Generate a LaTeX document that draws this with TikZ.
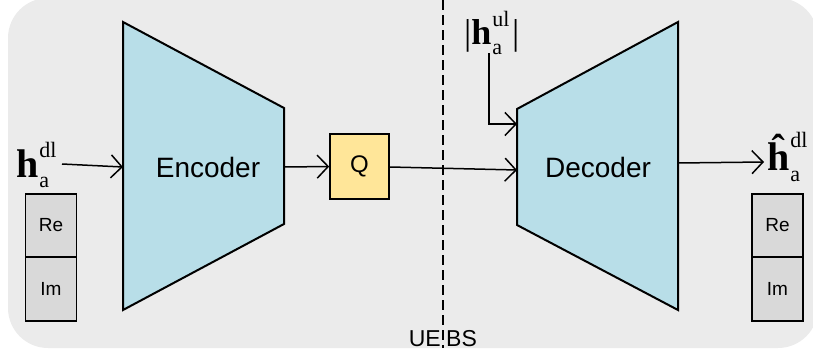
\documentclass[tikz,border=0pt]{standalone}
\usepackage{fontspec}
\setsansfont{Liberation Sans}
\newfontfamily\tnr{Liberation Serif}
\usetikzlibrary{arrows.meta}
\definecolor{bgc}{HTML}{EBEBEB}
\definecolor{blu}{HTML}{B8DEE8}
\definecolor{qyel}{HTML}{FFE699}
\definecolor{cellg}{HTML}{D9D9D9}
\tikzset{
  trap/.style={draw=black, line width=2pt, fill=blu, line join=miter},
  lbl/.style={font=\sffamily\fontsize{28}{30}\selectfont, inner sep=0pt},
  cell/.style={draw=black, line width=1.6pt, fill=cellg, minimum width=51pt, minimum height=63.5pt, inner sep=0pt, font=\sffamily\fontsize{19}{20}\selectfont},
  qbox/.style={draw=black, line width=1.6pt, fill=qyel, minimum width=59pt, minimum height=65pt, inner sep=0pt, font=\sffamily\fontsize{24}{26}\selectfont},
  conn/.style={line width=1.5pt, -{Straight Barb[length=11pt,width=23pt,line width=1.5pt]}},
  math/.style={inner sep=0pt, anchor=base west},
  side/.style={font=\sffamily\fontsize{23}{24}\selectfont, inner sep=0pt},
}
\newcommand{\scr}[1]{\hbox{\fontsize{22}{22}\tnr #1}}
\newcommand{\hlab}[5]{\hbox{\fontsize{#1}{#1}\tnr\bfseries #2}\kern1pt\rlap{\raise#3pt\scr{#4}}\lower#5pt\scr{a}}
\begin{document}
\begin{tikzpicture}[x=1pt,y=-1pt]
\useasboundingbox (0,0) rectangle (813,356);
\fill[bgc, rounded corners=40pt] (8,-2) rectangle (818,348);

% encoder
\coordinate (e1) at (123,22);
\coordinate (e2) at (284,108);
\coordinate (e3) at (284,224);
\coordinate (e4) at (123,310);
\draw[trap] (e1) -- (e2) -- (e3) -- (e4) -- cycle;
\node[lbl] (enc) at (208,167) {Encoder};
\coordinate (encin) at (123,167);
\coordinate (encout) at (284,167);

% decoder
\coordinate (d1) at (517,109);
\coordinate (d2) at (678,22);
\coordinate (d3) at (678,310);
\coordinate (d4) at (517,225);
\draw[trap] (d1) -- (d2) -- (d3) -- (d4) -- cycle;
\node[lbl] (dec) at (598,167) {Decoder};
\coordinate (decin) at (517,170);
\coordinate (decul) at (517,124);
\coordinate (decout) at (678,163);

% Q
\node[qbox] (q) at (359.5,166.5) {Q};

% Re/Im left
\node[cell] (re1) at (51,225.5) {Re};
\node[cell] (im1) at (51,289) {Im};
% Re/Im right
\node[cell] (re2) at (777.5,225.5) {Re};
\node[cell] (im2) at (777.5,289) {Im};

% labels
\node[math] (hin) at (16,177) {\hlab{40}{h}{20}{dl}{10}};
\node[math] (hout) at (767,170) {\hlab{40}{\^h}{23}{dl}{11}};
\node[math] (hul) at (464,44) {\hbox{\fontsize{36}{36}\tnr|}\hlab{36}{h}{18}{ul}{10}\kern10pt\hbox{\fontsize{36}{36}\tnr|}};

% dashed separator
\coordinate (dtop) at (443,0);
\coordinate (dbot) at (443,348);
\draw[line width=1.5pt, dash pattern=on 10pt off 5pt] (dtop) -- (dbot);
\node[side, anchor=base east] (ue) at (441,346) {UE};
\node[side, anchor=base west] (bs) at (446,346) {BS};

% connectors
\coordinate (hinend) at (62,164);
\draw[conn] (hinend) -- (encin);
\draw[conn] (encout) -- (q.west);
\draw[conn] (q.east |- 0,167) -- (decin);
\coordinate (ulstart) at (489,53);
\draw[conn] (ulstart) |- (decul);
\coordinate (outend) at (764,162);
\draw[conn] (decout) -- (outend);
\end{tikzpicture}
\end{document}
